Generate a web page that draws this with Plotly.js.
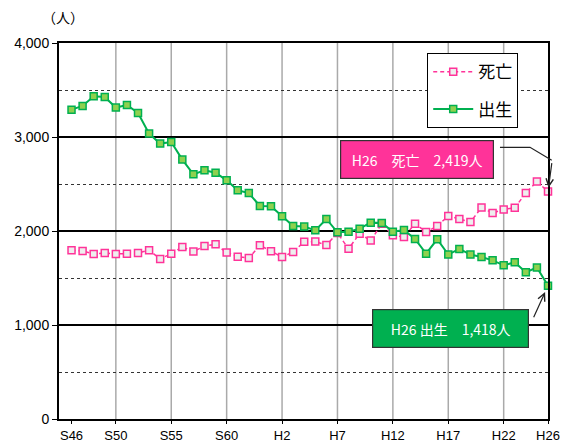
<!DOCTYPE html>
<html>
<head>
<meta charset="utf-8">
<script src="https://cdn.plot.ly/plotly-3.0.1.min.js"></script>
<style>html,body{margin:0;padding:0;background:#fff;}#chart{width:561px;height:443px;}</style>
</head>
<body>
<div id="chart"></div>
<script>
// Era-year categories (S46 = 1971 ... H26 = 2014)
const years = ['S46','S47','S48','S49','S50','S51','S52','S53','S54','S55','S56','S57','S58','S59','S60','S61','S62','S63',
  'H1','H2','H3','H4','H5','H6','H7','H8','H9','H10','H11','H12','H13','H14','H15','H16','H17','H18','H19','H20','H21','H22','H23','H24','H25','H26'];
// 死亡 (deaths)
const deaths = [1795,1787,1755,1766,1755,1759,1766,1795,1702,1759,1830,1781,1840,1859,1770,1727,1713,1848,
  1784,1723,1777,1885,1887,1850,1978,1811,1972,1898,2078,1954,1936,2078,1989,2053,2160,2128,2096,2249,2191,2230,2247,2404,2526,2419];
// 出生 (births)
const births = [3291,3330,3433,3426,3313,3340,3255,3036,2930,2947,2760,2603,2646,2620,2539,2433,2404,2266,
  2263,2156,2053,2047,2007,2128,1986,1993,2025,2089,2085,1993,2011,1915,1759,1912,1749,1809,1749,1723,1688,1635,1667,1561,1611,1418];
// Tick labels and vertical grid positions
const tickLabels = ['S46','S50','S55','S60','H2','H7','H12','H17','H22','H26'];
const gridCats = ['S50','S55','S60','H2','H7','H12','H17','H22'];

const FONT = 'Liberation Sans, Arial, "Noto Sans CJK JP", sans-serif';
const JFONT = '"Noto Sans CJK JP", "Liberation Sans", sans-serif';
const PINK = '#ff3399', GREEN = '#00b050';

const traces = [
  {x: years, y: deaths, name: '死亡', type: 'scatter', mode: 'lines+markers', cliponaxis: false,
   legendgroup: 'd',
   line: {color: PINK, width: 1.5, dash: '4px,3px'},
   marker: {symbol: 'square', size: 7, color: '#eeeeee', line: {color: PINK, width: 1.5}}},
  {x: years, y: births, name: '出生', type: 'scatter', mode: 'lines+markers', cliponaxis: false,
   legendgroup: 'b',
   line: {color: GREEN, width: 2},
   marker: {symbol: 'square', size: 7, color: '#8fd14f', line: {color: GREEN, width: 1.5}}}
];

const shapes = gridCats.map(c => ({type: 'line', xref: 'x', yref: 'paper', x0: c, x1: c, y0: 0, y1: 1,
  layer: 'below', line: {color: '#aaaaaa', width: 1.5}}));
shapes.push({type: 'path', xref: 'paper', yref: 'paper',
  path: 'M 0.9018 0.7226 L 0.9632 0.7226 L 1.0076 0.688', line: {color: '#222', width: 1.2}});

const last = years.length - 1;
const annotations = [
  {text: '（人）', xref: 'paper', yref: 'paper', x: 0.008, y: 1.068, xanchor: 'center', yanchor: 'middle',
   showarrow: false, font: {family: JFONT, size: 14, color: '#000'}},
  {text: 'H26　死亡　2,419人', xref: 'paper', yref: 'paper', x: 0.7331, y: 0.6894,
   xanchor: 'center', yanchor: 'middle', showarrow: false, width: 150, height: 35,
   bgcolor: PINK, bordercolor: '#333', borderwidth: 1.2,
   font: {family: JFONT, size: 14, color: '#fff'}},
  {text: 'H26 出生　1,418人', xref: 'paper', yref: 'paper', x: 0.8016, y: 0.2404,
   xanchor: 'center', yanchor: 'middle', showarrow: false, width: 153, height: 35,
   bgcolor: GREEN, bordercolor: '#333', borderwidth: 1.2,
   font: {family: JFONT, size: 14, color: '#fff'}},
  {text: '', x: years[last], y: deaths[last], xref: 'x', yref: 'y', showarrow: true,
   ax: 4, ay: -30, arrowhead: 5, arrowsize: 1.2, arrowwidth: 1.2, arrowcolor: '#222', standoff: 4},
  {text: '', x: years[last], y: births[last], xref: 'x', yref: 'y', showarrow: true,
   ax: -15, ay: 33, arrowhead: 5, arrowsize: 1.2, arrowwidth: 1.2, arrowcolor: '#222', standoff: 7}
];

const layout = {
  width: 561, height: 443,
  margin: {l: 59, r: 13, t: 43, b: 24, pad: 0},
  paper_bgcolor: '#fff', plot_bgcolor: '#fff',
  font: {family: FONT, size: 14, color: '#000'},
  showlegend: true,
  legend: {x: 0.753, y: 0.9726, xanchor: 'left', yanchor: 'top', bgcolor: '#fff',
    bordercolor: '#000', borderwidth: 1, font: {family: JFONT, size: 17, color: '#000'},
    traceorder: 'grouped', tracegroupgap: 12, itemwidth: 40},
  xaxis: {type: 'category', range: [-1.13, 43.0], tickvals: tickLabels, ticktext: tickLabels,
    showgrid: false, zeroline: false, showline: true, linecolor: '#000', linewidth: 2, mirror: true,
    ticks: 'outside', ticklen: 3, tickcolor: '#000', tickfont: {family: FONT, size: 13, color: '#000'}},
  yaxis: {range: [0, 4000], dtick: 1000, tickformat: ',d', showgrid: true, gridcolor: '#000', gridwidth: 1.2,
    minor: {dtick: 500, showgrid: true, gridcolor: '#333', griddash: 'dot', gridwidth: 1},
    zeroline: false, showline: true, linecolor: '#000', linewidth: 2, mirror: true,
    ticks: 'outside', ticklen: 5, tickcolor: '#000', tickfont: {family: FONT, size: 14, color: '#000'}},
  shapes: shapes,
  annotations: annotations
};

Plotly.newPlot('chart', traces, layout, {displayModeBar: false, staticPlot: true});
</script>
</body>
</html>
